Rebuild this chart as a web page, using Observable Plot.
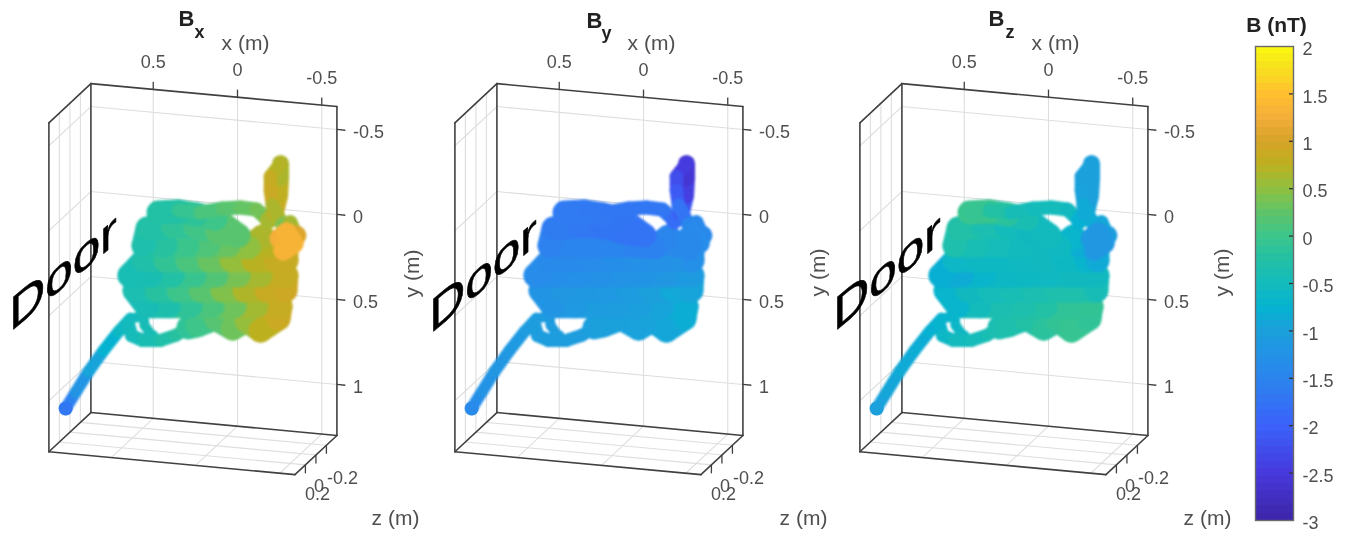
<!DOCTYPE html>
<html>
<head>
<meta charset="utf-8">
<script src="https://cdn.jsdelivr.net/npm/d3@7"></script>
<script src="https://cdn.jsdelivr.net/npm/@observablehq/plot@0.6"></script>
<style>
  html,body{margin:0;padding:0;background:#fff;overflow:hidden}
  #wrap{position:relative;width:1352px;height:536px;filter:blur(0.5px)}
  #wrap svg{position:absolute;top:0;background:transparent;overflow:visible}
</style>
</head>
<body>
<div id="wrap"></div>
<script>
// Axis ticks and limits (metres)
const xTicks = [0.5, 0, -0.5];
const yTicks = [-0.5, 0, 0.5, 1];
const zTicks = [-0.2, 0, 0.2];
const xLim = [-0.59, 0.87];
const yLim = [-0.635, 1.3];
const zLim = [-0.4, 0.4];

const traceX = [
  .895,.836,.759,.670,.581,.510,
  .433,.427,.380,
  .439,.504,.522,.504,.439,.332,.243,.166,
  .113,.006,-.095,-.178,-.261,-.368,
  -.380,-.237,-.107,.024,.154,.285,.415,
  .486,.356,.225,.095,-.036,-.166,-.297,-.409,
  -.415,-.261,-.130,0,.130,.261,.391,.516,
  .433,.302,.172,.042,-.089,-.219,-.350,-.415,
  -.415,-.308,-.273,-.190,-.071,.047,.172,.302,.433,
  .409,.261,.125,-.006,-.130,
  .006,.119,.225,.344,
  .225,.095,-.036,-.142,-.237,-.308,
  -.350,-.374,-.380,-.380,
  -.320,-.320,-.332,
  -.391,-.439,-.474,
  -.374,-.415,-.457,-.397,-.415
];
const traceY = [
  1.163,1.063,.933,.801,.681,.598,
  .579,.631,.692,
  .721,.698,.634,.698,.721,.711,.673,.619,
  .602,.552,.601,.547,.598,.517,
  .445,.458,.470,.482,.494,.506,.518,
  .431,.419,.407,.395,.383,.371,.359,.348,
  .260,.274,.286,.298,.310,.322,.334,.346,
  .250,.238,.226,.214,.202,.190,.178,.172,
  .084,.094,.044,.115,.115,.126,.138,.150,.162,
  .060,.034,.022,.044,.051,
  -.036,-.050,-.057,-.040,
  -.063,-.063,-.099,-.115,-.112,-.053,
  -.104,-.207,-.313,-.395,
  -.314,-.232,-.144,
  -.038,-.055,.019,
  .046,.007,.068,.114,.060
];
// Depth of the track toward the viewer (m); nearer parts look thicker
const traceDepth = [
  -.2,-.2,-.2,-.2,-.2,-.2,
  -.27,-.27,-.27,
  -.17,-.17,-.17,-.17,-.17,-.17,-.17,-.17,
  .2,.2,.2,.2,.2,.2,
  .2,.2,.2,.2,.2,.2,.2,
  .2,.2,.2,.2,.2,.2,.2,.2,
  .2,.2,.2,.2,.2,.2,.2,.2,
  .2,.2,.2,.2,.2,.2,.2,.2,
  .2,.2,.2,.2,.2,.2,.2,.2,.2,
  .2,.2,.2,.2,.2,
  .2,.2,.2,.2,
  -.13,-.13,-.13,-.13,-.13,-.13,
  -.03,-.03,-.03,-.03,
  -.15,-.15,-.15,
  -.13,-.13,-.13,
  .07,.07,.07,.07,.07
];
const Bx = [
  -1.7,-1.35,-1.05,-.85,-.65,-.55,
  -.5,-.45,-.42,
  -.5,-.55,-.55,-.5,-.45,-.35,-.25,-.15,
  -.1,.1,.25,.4,.65,.85,
  .92,.75,.45,.2,0,-.25,-.42,
  -.45,-.3,-.1,.1,.3,.55,.8,.92,
  .9,.75,.5,.25,.05,-.15,-.35,-.45,
  -.4,-.2,0,.2,.4,.65,.8,.85,
  .85,.75,.7,.6,.4,.2,.05,-.1,-.3,
  -.35,-.2,-.05,.1,.3,
  .1,-.1,-.2,-.3,
  -.2,.05,.15,.25,.3,.4,
  .85,.85,.7,.6,
  .8,.85,.9,
  .4,.35,.9,
  1.2,1.3,1.35,1.3,1.35
];
const By = [
  -1.4,-1.3,-1.2,-1.15,-1.1,-1.05,
  -1.1,-1.1,-1.05,
  -1.05,-1.05,-1.05,-1.05,-1.05,-1.05,-1.05,-1.05,
  -1.0,-1.0,-.98,-.98,-.95,-.9,
  -.75,-.9,-1.0,-1.05,-1.05,-1.1,-1.15,
  -1.25,-1.2,-1.15,-1.15,-1.1,-1.05,-.95,-.85,
  -1.05,-1.15,-1.2,-1.25,-1.25,-1.3,-1.3,-1.35,
  -1.4,-1.4,-1.4,-1.35,-1.3,-1.3,-1.25,-1.25,
  -1.35,-1.4,-1.45,-1.5,-1.55,-1.5,-1.5,-1.5,-1.5,
  -1.6,-1.65,-1.7,-1.75,-1.75,
  -1.75,-1.7,-1.65,-1.65,
  -1.65,-1.7,-1.7,-1.7,-1.7,-1.7,
  -2.0,-2.3,-2.55,-2.65,
  -2.3,-2.2,-2.0,
  -1.5,-1.45,-1.4,
  -1.45,-1.45,-1.35,-1.4,-1.45
];
const Bz = [
  -1.0,-.95,-.9,-.85,-.8,-.75,
  -.7,-.65,-.6,
  -.6,-.7,-.75,-.7,-.55,-.5,-.45,-.4,
  -.35,-.3,-.2,-.15,-.05,-.1,
  -.15,-.05,-.2,-.3,-.35,-.4,-.6,
  -.8,-.6,-.5,-.45,-.4,-.35,-.3,-.35,
  -.55,-.55,-.55,-.6,-.6,-.62,-.75,-.95,
  -.65,-.6,-.6,-.6,-.55,-.55,-.65,-.75,
  -1.0,-.85,-.8,-.6,-.55,-.55,-.5,-.45,-.4,
  -.25,-.3,-.45,-.55,-.55,
  -.5,-.3,-.05,-.05,
  -.1,-.4,-.5,-.5,-.5,-.6,
  -.95,-1.0,-1.0,-1.0,
  -1.0,-1.0,-.95,
  -.8,-.85,-1.0,
  -1.1,-1.15,-1.2,-1.15,-1.2
];

// Colour bar
const cbTicks = [2, 1.5, 1, 0.5, 0, -0.5, -1, -1.5, -2, -2.5, -3];
const colorDomain = [-3,-2.5,-2,-1.5,-1,-.75,-.5,-.25,0,.25,.5,.75,1,1.25,1.5,1.75,2];
const colorRange = ["#3d26a8","#4739dc","#3b62fa","#2b85ee","#1ba0dc","#05b3d0","#14bbbb","#22c0a5","#3dc58a",
                    "#60c468","#8fc03f","#bdb01f","#d6a328","#f4ae3a","#ffc02e","#f8de20","#fafa0f"];
const colorBands = d3.range(64).map(i => -3 + (i + 0.5) * 5 / 64);

const panels = [
  {name:"x", values:Bx, left:0,   title:[178,18,194,32], door:[1.228,0.748], yLabel:[412,273], zLabel:[395,518], xLabel:245},
  {name:"y", values:By, left:406, title:[180,20,195,33], door:[1.146,0.752], yLabel:[412,272], zLabel:[397,518], xLabel:245},
  {name:"z", values:Bz, left:811, title:[177,18,194,32], door:[1.152,0.741], yLabel:[411,272], zLabel:[396,518], xLabel:244}
];

// Oblique view used by all three boxes
const u = (x, y, z) => -168.5 * x - 52.5 * z;
const v = (x, y, z) => -15.7 * x + 170 * y + 49 * z;
const seg = (a, b) => ({x1:u(...a), y1:v(...a), x2:u(...b), y2:v(...b)});

const [xa, xb] = xLim, [ya, yb] = yLim, [za, zb] = zLim;
const grid = [];
for (const x of xTicks) { grid.push(seg([x,ya,za],[x,yb,za]), seg([x,yb,za],[x,yb,zb])); }
for (const y of yTicks) { grid.push(seg([xb,y,za],[xa,y,za]), seg([xb,y,za],[xb,y,zb])); }
for (const z of zTicks) { grid.push(seg([xb,ya,z],[xb,yb,z]), seg([xb,yb,z],[xa,yb,z])); }
const edges = [
  seg([xb,ya,za],[xa,ya,za]), seg([xa,ya,za],[xa,yb,za]), seg([xa,yb,za],[xb,yb,za]), seg([xb,yb,za],[xb,ya,za]),
  seg([xb,ya,za],[xb,ya,zb]), seg([xb,ya,zb],[xb,yb,zb]), seg([xb,yb,zb],[xb,yb,za]),
  seg([xb,yb,zb],[xa,yb,zb]), seg([xa,yb,zb],[xa,yb,za])
];
const ticks = [
  ...xTicks.map(x => seg([x,ya,za],[x,ya-0.045,za])),
  ...yTicks.map(y => seg([xa,y,za],[xa-0.05,y,za])),
  ...zTicks.map(z => seg([xa,yb,z],[xa,yb+0.05,z]))
];

const radius = d3.scaleLinear().domain([-0.2, 0.2]).range([6, 12]);
const font = "Liberation Sans, Arial, sans-serif";
const grey = "#4f4f4f";

const wrap = document.getElementById("wrap");
const W = 450, H = 536;

function label(s, px, py, o = {}) {
  return Plot.text([s], {frameAnchor:"top-left", dx:px, dy:py, lineAnchor:"middle", textAnchor:"middle", fill:grey, fontSize:21, fontFamily:font, ...o});
}

for (const p of panels) {
  const pts = traceX.map((x, i) => ({x, y:traceY[i], depth:traceDepth[i], b:p.values[i]}));
  const segs = pts.slice(1).map((d, i) => ({...seg([pts[i].x,pts[i].y,0],[d.x,d.y,0]), b:(d.b + pts[i].b) / 2, depth:d.depth}));
  const tickText = (arr, f, dx, dy, anchor) => Plot.text(arr, {
    x:d => u(...f(d)), y:d => v(...f(d)), text:d => String(d),
    dx, dy, textAnchor:anchor, fill:grey, fontSize:18, fontFamily:font
  });
  const svg = Plot.plot({
    width:W, height:H, margin:0, style:{background:"transparent", overflow:"visible"},
    x:{domain:[-216, W-216], range:[0, W], axis:null},
    y:{domain:[-224.3, H-224.3], range:[0, H], axis:null},
    color:{type:"linear", domain:colorDomain, range:colorRange, clamp:true},
    marks:[
      Plot.link(grid, {x1:"x1", y1:"y1", x2:"x2", y2:"y2", stroke:"#dedede", strokeWidth:1.1}),
      Plot.link(edges, {x1:"x1", y1:"y1", x2:"x2", y2:"y2", stroke:"#404040", strokeWidth:1.6, strokeLinecap:"round"}),
      Plot.link(ticks, {x1:"x1", y1:"y1", x2:"x2", y2:"y2", stroke:"#404040", strokeWidth:1.3}),
      Plot.link(segs, {x1:"x1", y1:"y1", x2:"x2", y2:"y2", stroke:"b", strokeWidth:d => 2 * radius(d.depth), strokeLinecap:"round", className:"trace"}),
      Plot.dot(pts.slice(0, 1), {x:d => u(d.x,d.y,0), y:d => v(d.x,d.y,0), r:7, fill:"b"}),
      Plot.text(["Door"], {x:u(p.door[0],p.door[1],0), y:v(p.door[0],p.door[1],0), textAnchor:"start", fontSize:45, fontFamily:font, fill:"#000", stroke:"#000", strokeWidth:0.6, className:"door"}),
      tickText(xTicks, d => [d,ya,za], 0, -27, "middle"),
      tickText(yTicks, d => [xa,d,za], 16, 3, "start"),
      tickText([zTicks[0]], d => [xa,yb,d], 16, 33, "middle"),
      tickText([zTicks[1]], d => [xa,yb,d], 3, 31, "middle"),
      tickText([zTicks[2]], d => [xa,yb,d], 12, 29, "middle"),
      label("B", p.title[0], p.title[1], {fontWeight:"bold", fontSize:22, fill:"#222", textAnchor:"start"}),
      label(p.name, p.title[2], p.title[3], {fontWeight:"bold", fontSize:18, fill:"#222", textAnchor:"start"}),
      label("x (m)", p.xLabel, 43),
      label("y (m)", p.yLabel[0], p.yLabel[1], {rotate:-90}),
      label("z (m)", p.zLabel[0], p.zLabel[1])
    ]
  });
  svg.style.left = p.left + "px";
  svg.querySelectorAll(".door text").forEach(el => {
    const t = el.getAttribute("transform") || "";
    const x = +el.getAttribute("x") || 0, y = +el.getAttribute("y") || 0;
    el.removeAttribute("x"); el.removeAttribute("y"); el.removeAttribute("dy");
    el.setAttribute("transform", `${t} translate(${x},${y}) skewY(-40) scale(1.1,1.05)`);
  });
  // Soften the whole track once, as one layer
  const traceParts = svg.querySelectorAll(".trace");
  const traceGroup = traceParts.length > 1 ? traceParts[0].parentNode : traceParts[0];
  if (traceGroup) traceGroup.setAttribute("style", "filter:blur(0.9px)");
  wrap.appendChild(svg);
}

const bar = Plot.plot({
  width:112, height:H, marginLeft:15, marginRight:59, marginTop:46, marginBottom:16,
  style:{background:"transparent", overflow:"visible"},
  y:{domain:[-3, 2]},
  color:{type:"linear", domain:colorDomain, range:colorRange},
  marks:[
    Plot.rect(colorBands, {y1:d => d - 2.5/64, y2:d => d + 2.5/64, fill:d => d, shapeRendering:"crispEdges"}),
    Plot.tickY(cbTicks.slice(1, -1), {y:d => d, insetLeft:34, stroke:"#333", strokeWidth:1.3}),
    Plot.frame({stroke:"#6a6a6a", strokeWidth:1.4}),
    Plot.axisY(cbTicks, {anchor:"right", tickSize:0, tickPadding:9, tickFormat:d => String(d), fontSize:18, fill:grey, fontFamily:font, label:null, dy:3, marginRight:59}),
    Plot.text(["B (nT)"], {frameAnchor:"top", lineAnchor:"middle", dy:-21, dx:2, fontWeight:"bold", fontSize:21, fill:"#222", fontFamily:font})
  ]
});
bar.style.left = "1240px";
wrap.appendChild(bar);
</script>
</body>
</html>
